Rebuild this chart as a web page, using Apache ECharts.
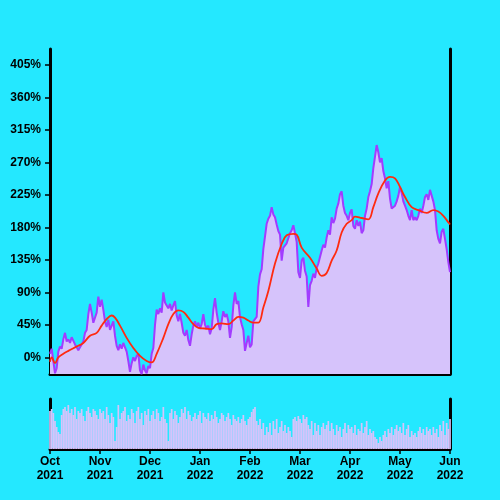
<!DOCTYPE html>
<html><head><meta charset="utf-8">
<script src="https://cdn.jsdelivr.net/npm/echarts@6/dist/echarts.min.js"></script>
<style>html,body{margin:0;padding:0;background:#24e8ff}#c{width:500px;height:500px}</style>
</head><body><div id="c"></div><script>
const tickLabels = ['Oct\n2021','Nov\n2021','Dec\n2021','Jan\n2022','Feb\n2022','Mar\n2022','Apr\n2022','May\n2022','Jun\n2022'];
const yTicks = [0,45,90,135,180,225,270,315,360,405];
const close = [
5,12,-5,-22,-15,8,15,12,25,34,
22,25,20,28,26,18,14,10,14,12,
22,34,38,60,74,62,48,46,62,84,
70,80,66,50,42,52,38,44,50,30,
16,10,18,12,20,14,8,-5,-20,-8,
0,-5,2,5,-18,-23,-10,-18,-22,-12,
-15,5,13,45,66,60,68,62,90,76,
72,68,74,65,72,78,58,50,60,48,
34,30,38,24,16,32,44,50,42,48,
40,46,60,45,40,44,32,40,66,82,
62,48,38,50,64,56,60,50,27,42,
72,90,74,78,56,46,38,9,20,30,
14,18,50,52,56,98,115,122,150,148,
185,192,196,208,198,194,184,175,170,134,
152,150,158,165,172,176,183,172,160,118,
110,134,138,120,112,70,100,106,116,110,
124,130,128,148,156,152,166,176,170,194,
186,192,206,213,226,230,210,200,196,190,
200,205,182,178,190,182,188,172,176,196,
206,222,230,240,262,278,294,284,270,276,
258,248,234,244,220,206,204,210,216,224,
236,228,216,210,204,196,190,204,190,194,
190,196,206,200,210,222,226,218,232,224,
216,204,176,164,158,174,178,164,150,132,
118];
const maIndex = [0,1,3,5,8,11,16,20,24,28,31,34,37,39,42,46,50,54,58,61,64,68,71,74,77,80,83,86,89,93,97,100,103,107,110,113,116,119,122,125,128,131,135,139,142,146,148,151,156,160,163,166,169,172,175,178,181,183,187,191,194,197,201,204,207,210,213,217,221,226,230,233,236,239,240];
const maValues = [-6,0,-8,0,5,9,15,20,30,34,44,53,58,55,44,27,13,2,-5,-7,5,27,46,60,65,63,55,46,41,40,39,46,47,46,51,56,55,51,48,48,69,92,130,157,169,171,170,152,138,123,113,117,134,148,173,185,190,195,193,191,208,227,245,250,248,236,222,208,204,200,204,202,196,187,184];
const volume = [
38,40,36,28,22,17,15,34,40,42,
38,44,36,40,34,42,30,38,36,40,
33,28,38,42,36,32,40,38,34,30,
40,36,38,30,42,34,26,36,32,8,
22,44,30,36,38,42,28,34,30,40,
36,26,38,42,30,36,24,38,34,40,28,
34,38,30,40,36,28,32,42,30,26,
8,36,40,30,38,34,26,32,40,36,
42,30,38,34,28,32,36,30,34,38,
26,36,32,30,36,28,34,30,38,32,
26,30,36,34,28,32,36,30,24,34,
30,28,32,26,30,34,28,24,30,32,
37,40,42,28,24,30,20,26,14,22,
17,26,14,28,20,30,16,22,28,18,
24,16,22,18,12,30,32,28,33,30,
26,34,30,32,24,20,28,14,26,18,
24,14,22,26,20,24,28,18,26,20,
14,24,18,22,12,20,26,16,24,20,
22,16,24,14,20,18,26,16,22,28,
14,20,16,18,12,10,6,12,8,14,
18,12,20,16,22,14,20,24,18,22,
16,26,14,20,24,12,18,14,16,12,
18,22,16,20,14,22,18,20,14,22,
16,20,12,24,18,28,14,26,20,30];

const font = 'Liberation Sans, Arial, sans-serif';
const black = '#000';
const purpleLine = '#a23cff';
const fill = '#d6c3fb';
const chart = echarts.init(document.getElementById('c'));
chart.setOption({
  animation: false,
  backgroundColor: '#24e8ff',
  grid: [
    {left: 50, right: 50, top: 49, bottom: 126},
    {left: 50, right: 50, top: 399, bottom: 51}
  ],
  xAxis: [
    {gridIndex: 0, type: 'value', min: 0, max: 240,
     axisLine: {show: true, onZero: false, lineStyle: {color: black, width: 3}},
     axisTick: {show: false}, axisLabel: {show: false}, splitLine: {show: false}},
    {gridIndex: 1, type: 'value', min: 0, max: 240, interval: 30,
     axisLine: {show: true, onZero: false, lineStyle: {color: black, width: 3}},
     axisTick: {show: true, length: 5, lineStyle: {color: black, width: 1.5}},
     axisLabel: {formatter: v => tickLabels[Math.round(v / 30)], color: black, fontSize: 12, fontWeight: 'bold', fontFamily: font, lineHeight: 14, margin: 6, showMinLabel: true, showMaxLabel: true},
     splitLine: {show: false}}
  ],
  yAxis: [
    {gridIndex: 0, type: 'value', min: -23, max: 427,
     axisLine: {show: true, onZero: false, lineStyle: {color: black, width: 3}},
     axisTick: {show: true, customValues: yTicks, length: 5, lineStyle: {color: black, width: 1.5}},
     axisLabel: {customValues: yTicks, formatter: '{value}%', color: black, fontSize: 12, fontWeight: 'bold', fontFamily: font, margin: 9},
     splitLine: {show: false}},
    {gridIndex: 0, type: 'value', position: 'right', min: -23, max: 427,
     axisLine: {show: true, onZero: false, lineStyle: {color: black, width: 3}},
     axisTick: {show: false}, axisLabel: {show: false}, splitLine: {show: false}},
    {gridIndex: 1, type: 'value', min: 0, max: 50,
     axisLine: {show: true, onZero: false, lineStyle: {color: black, width: 3}},
     axisTick: {show: false}, axisLabel: {show: false}, splitLine: {show: false}},
    {gridIndex: 1, type: 'value', position: 'right', min: 0, max: 50,
     axisLine: {show: true, onZero: false, lineStyle: {color: black, width: 3}},
     axisTick: {show: false}, axisLabel: {show: false}, splitLine: {show: false}}
  ],
  series: [
    {type: 'line', xAxisIndex: 0, yAxisIndex: 0, data: close.map((v, i) => [i, v]),
     showSymbol: false, lineStyle: {color: purpleLine, width: 2},
     areaStyle: {color: fill, opacity: 1, origin: 'start'}, z: 2},
    {type: 'line', xAxisIndex: 0, yAxisIndex: 0, data: maIndex.map((d, i) => [d, maValues[i]]),
     showSymbol: false, smooth: 0.4, lineStyle: {color: '#ff2a10', width: 1.8}, z: 3},
    {type: 'bar', xAxisIndex: 1, yAxisIndex: 2, data: volume.map((v, i) => [i, v]),
     barWidth: 1.7, itemStyle: {color: fill}}
  ]
});
</script></body></html>
